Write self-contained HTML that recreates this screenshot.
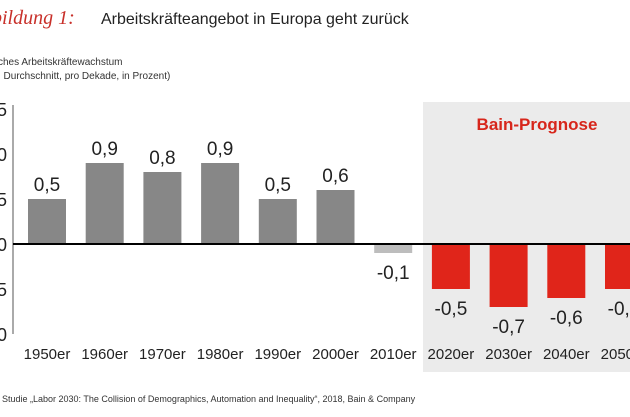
<!DOCTYPE html>
<html><head><meta charset="utf-8"><style>
body{margin:0;width:630px;height:412px;overflow:hidden;background:#fff;font-family:"Liberation Sans",sans-serif}
</style></head><body>
<svg width="630" height="412">
<text x="-8" y="24" font-size="20" fill="#c8302a" font-style="italic" font-family="Liberation Serif">bildung 1:</text>
<text x="101" y="24" font-size="16" fill="#222">Arbeitskräfteangebot in Europa geht zurück</text>
<text x="-2" y="65" font-size="10" fill="#333">ches Arbeitskräftewachstum</text>
<text x="-2" y="79" font-size="10" fill="#333">, Durchschnitt, pro Dekade, in Prozent)</text>
<rect x="423" y="102" width="207" height="270" fill="#ebebeb"/>
<text x="537" y="130" font-size="17" font-weight="bold" fill="#d7261b" text-anchor="middle">Bain-Prognose</text>
<line x1="13" y1="105" x2="13" y2="334" stroke="#555" stroke-width="1"/>
<g id="yt"></g><g id="bars"></g>
<line x1="13" y1="244" x2="630" y2="244" stroke="#000" stroke-width="2"/>
<text x="-3" y="402" font-size="9" fill="#333">: Studie „Labor 2030: The Collision of Demographics, Automation and Inequality“, 2018, Bain &amp; Company</text>
</svg>
<script>
const categories=["1950er","1960er","1970er","1980er","1990er","2000er","2010er","2020er","2030er","2040er","2050er"];
const values=[0.5,0.9,0.8,0.9,0.5,0.6,-0.1,-0.5,-0.7,-0.6,-0.5];
const forecast=[false,false,false,false,false,false,false,true,true,true,true];
const yTicks=[1.5,1,0.5,0,-0.5,-1];
const NS="http://www.w3.org/2000/svg";
const y=v=>244-v*90;
const x=i=>47+i*57.7;
function mk(t,a,p){const e=document.createElementNS(NS,t);for(const k in a)e.setAttribute(k,a[k]);p.appendChild(e);return e;}
const yt=document.getElementById('yt'),bg=document.getElementById('bars');
yTicks.forEach(v=>{const t=mk('text',{x:7,y:y(v)+7,'font-size':18,fill:'#222','text-anchor':'end'},yt);
t.textContent=Math.abs(v).toFixed(1).replace('.',',');

});
categories.forEach((c,i)=>{const v=values[i];const top=Math.min(y(v),y(0)),h=Math.abs(y(v)-y(0));
const col=forecast[i]?'#e0251a':(v<0?'#bdbdbd':'#878787');
const r=mk('rect',{x:x(i)-19,y:top,width:38,height:h,fill:col},bg);


const ly=v>=0?y(v)-8:y(v)+26;
const l=mk('text',{x:x(i),y:ly,'font-size':19,fill:'#222','text-anchor':'middle'},bg);
l.textContent=(v<0?'-':'')+Math.abs(v).toFixed(1).replace('.',',');


const xl=mk('text',{x:x(i),y:359,'font-size':15,fill:'#222','text-anchor':'middle'},bg);
xl.textContent=c;

});
</script>
</body></html>
